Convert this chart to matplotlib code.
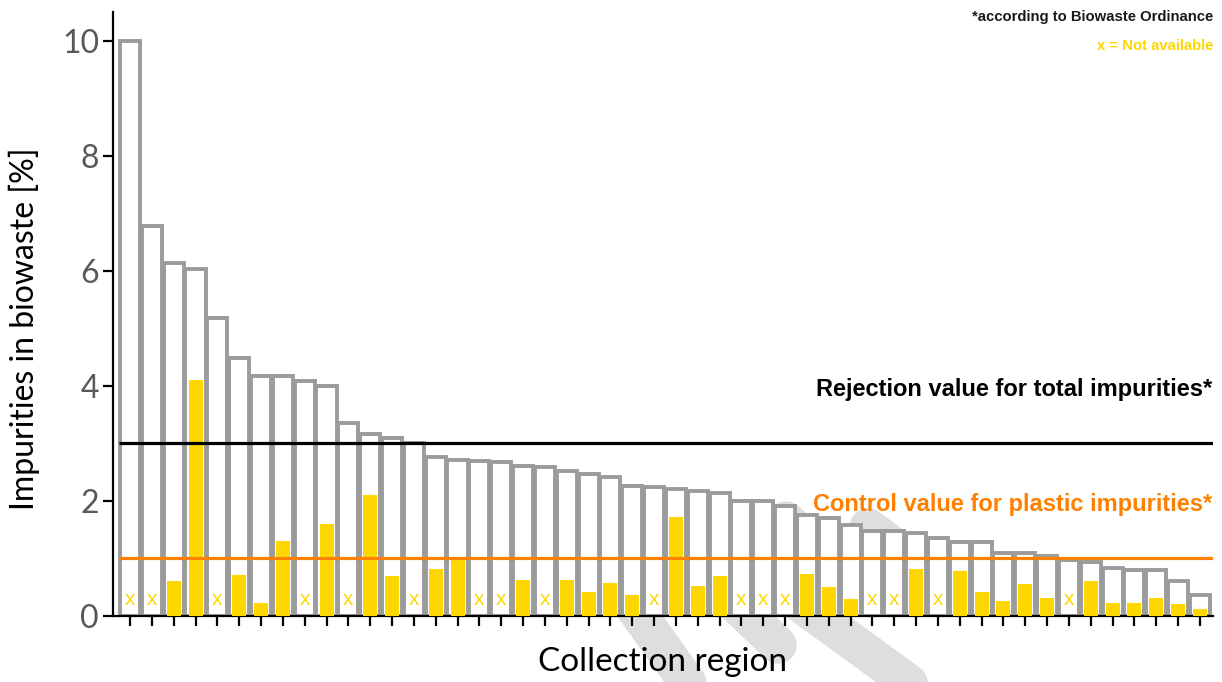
import numpy as np
import matplotlib
matplotlib.use("Agg")
import matplotlib.pyplot as plt
from matplotlib.lines import Line2D

# Data: total impurities per collection region (sorted), plastic share (None = not available)
total_impurities = [10.0, 6.78, 6.13, 6.03, 5.18, 4.48, 4.18, 4.18, 4.08, 3.99,
                    3.36, 3.16, 3.09, 3.0, 2.77, 2.71, 2.69, 2.67, 2.61, 2.59,
                    2.52, 2.46, 2.42, 2.26, 2.24, 2.2, 2.18, 2.14, 2.0, 2.0,
                    1.91, 1.76, 1.7, 1.58, 1.48, 1.48, 1.44, 1.36, 1.29, 1.29,
                    1.1, 1.1, 1.04, 0.98, 0.94, 0.83, 0.8, 0.8, 0.6, 0.36]
plastic_impurities = [None, None, 0.61, 4.11, None, 0.71, 0.22, 1.3, None, 1.6,
                      None, 2.11, 0.7, None, 0.81, 0.97, None, None, 0.62, None,
                      0.62, 0.42, 0.57, 0.36, None, 1.72, 0.52, 0.69, None, None,
                      None, 0.73, 0.51, 0.3, None, None, 0.81, None, 0.78, 0.42,
                      0.26, 0.56, 0.32, None, 0.6, 0.23, 0.22, 0.32, 0.21, 0.13]

rejection_value = 3.0
control_value = 1.0
y_ticks = [0, 2, 4, 6, 8, 10]

x_label = "Collection region"
y_label = "Impurities in biowaste [%]"
rejection_text = "Rejection value for total impurities*"
control_text = "Control value for plastic impurities*"
note_text = "*according to Biowaste Ordinance"
na_text = "x = Not available"

GRAY = "#9b9b9b"
YELLOW = "#ffd700"
ORANGE = "#ff8000"

fig = plt.figure(figsize=(12.22, 6.82), dpi=100)

# faint watermark stripes behind the chart (figure pixel coords)
def px(x, y):
    return x / 1222, 1 - y / 682

stripes = [((600, 560), (700, 700)),
           ((690, 560), (778, 645)),
           ((740, 560), (960, 720)),
           ((786, 520), (840, 570)),
           ((868, 527), (940, 580))]
for (x0, y0), (x1, y1) in stripes:
    a, b = px(x0, y0)
    c, d = px(x1, y1)
    fig.add_artist(Line2D([a, c], [b, d], transform=fig.transFigure, color="#dedede",
                          lw=27, solid_capstyle="round", zorder=0))

ax = fig.add_axes([113 / 1222, 1 - 616 / 682, (1213 - 113) / 1222, (616 - 12) / 682])
ax.set_facecolor("none")

x = np.arange(len(total_impurities))

# total impurities: white bars with gray outline
ax.bar(x, total_impurities, width=0.92, color="white", edgecolor=GRAY, linewidth=2.8, zorder=2)

# plastic impurities: yellow bars, "x" where not available
for i, v in enumerate(plastic_impurities):
    if v is None:
        ax.text(i, 0.28, "x", color=YELLOW, fontsize=15, ha="center", va="center",
                family="Liberation Sans", zorder=4)
    else:
        ax.bar(i, v, width=0.64, color=YELLOW, linewidth=0, zorder=3)

# limit values
ax.hlines(rejection_value, -0.5, 49.6, color="black", lw=2.3, zorder=5)
ax.hlines(control_value, -0.5, 49.6, color=ORANGE, lw=2.3, zorder=5)
ax.text(49.55, 3.93, rejection_text, ha="right", va="center", fontsize=17,
        fontweight="bold", family="Liberation Sans", color="black", zorder=6)
ax.text(49.55, 1.93, control_text, ha="right", va="center", fontsize=17,
        fontweight="bold", family="Liberation Sans", color=ORANGE, zorder=6)

ax.set_xlim(-0.78, 49.6)
ax.set_ylim(0, 10.5)
ax.set_xticks(x)
ax.set_xticklabels([])
ax.set_yticks(y_ticks)
ax.set_yticklabels([str(t) for t in y_ticks], fontsize=23, color="#595959", family="Lato")
ax.tick_params(axis="both", direction="out", length=7, width=1.6, color="black")
ax.tick_params(axis="y", pad=3)

for s in ["top", "right"]:
    ax.spines[s].set_visible(False)
for s in ["left", "bottom"]:
    ax.spines[s].set_linewidth(1.6)

ax.set_xlabel(x_label, fontsize=24, family="Lato", color="black", labelpad=12)
ax.set_ylabel(y_label, fontsize=23, family="Lato", color="black")
ax.yaxis.set_label_coords(-0.066, 0.475)

# notes top right
fig.text(1213 / 1222, 1 - 17 / 682, note_text, ha="right", va="center", fontsize=10.7,
         fontweight="bold", family="Liberation Sans", color="#1a1a1a")
fig.text(1213 / 1222, 1 - 46 / 682, na_text, ha="right", va="center", fontsize=10.7,
         fontweight="bold", family="Liberation Sans", color=YELLOW)

fig.savefig("out.png", dpi=100, facecolor="white")
print("saved out.png")
